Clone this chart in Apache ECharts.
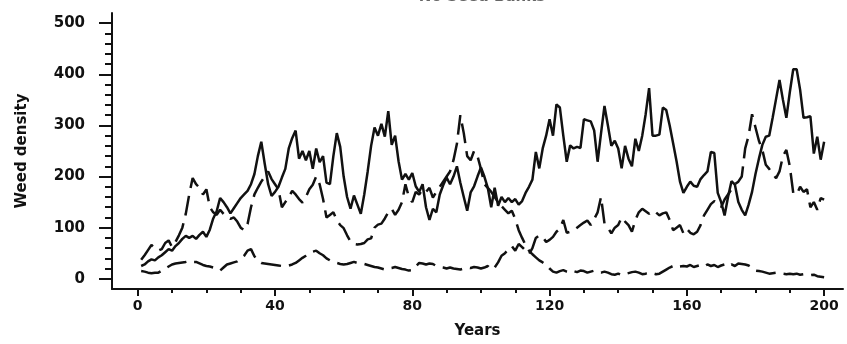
<!DOCTYPE html>
<html>
<head>
<meta charset="utf-8">
<script src="https://cdn.jsdelivr.net/npm/echarts@6/dist/echarts.min.js"></script>
<style>html,body{margin:0;padding:0;background:#fff;}#c{width:847px;height:344px;}</style>
</head>
<body>
<div id="c"></div>
<script>
// Weed density over 200 years (years 1..200)
const solidSeries = [
25,28,34,38,36,42,46,52,58,55,64,70,78,84,80,84,78,86,92,82,
96,118,132,158,150,140,128,138,148,158,165,172,185,205,240,268,225,185,162,170,
180,198,215,255,275,290,235,250,232,250,215,255,228,240,188,185,240,285,258,200,
160,137,163,145,127,165,210,260,296,280,303,278,328,262,280,230,194,205,194,207,
181,170,185,140,115,137,130,165,183,198,185,200,220,188,160,133,169,181,200,218,
200,178,140,178,143,160,150,158,150,156,145,152,168,180,194,248,216,255,280,312,
280,341,335,280,229,261,255,258,256,312,310,308,290,229,285,338,300,260,270,255,
216,260,235,220,274,250,280,322,373,280,280,282,335,330,300,265,230,190,168,180,
190,182,180,195,203,210,248,246,168,150,124,160,191,184,150,135,124,145,170,205,
235,262,278,280,315,352,389,350,315,365,410,410,370,315,316,318,245,278,233,268
];
const dashedA = [
37,46,56,66,60,55,58,70,75,62,72,85,100,127,165,197,185,178,165,175,
140,130,125,135,127,120,117,120,112,100,95,107,140,165,178,190,200,210,195,185,
175,140,150,160,172,165,156,149,160,175,184,200,185,156,120,125,130,115,105,99,
85,73,68,67,68,70,77,79,100,106,108,118,130,137,125,135,150,185,160,150,
170,165,175,170,178,159,170,180,190,200,210,232,264,320,285,240,232,250,240,215,
185,178,170,160,150,142,135,128,133,117,95,80,66,55,48,42,36,32,27,20,
14,12,15,17,14,12,15,13,16,15,12,14,16,13,12,14,12,9,8,10,
7,9,11,13,14,12,9,10,12,11,9,10,14,18,22,25,22,24,25,24,
27,23,25,27,24,28,25,27,23,26,28,24,28,25,30,29,28,26,22,16,
15,14,12,10,11,12,11,10,9,10,9,10,8,9,8,7,8,5,4,3
];
const dashedB = [
15,14,12,11,12,12,16,20,24,28,30,31,32,33,35,33,33,30,27,25,
24,22,18,16,22,28,30,32,34,38,45,55,58,44,36,31,30,29,28,27,
26,25,25,26,28,31,36,41,45,50,53,55,50,46,40,36,33,31,29,28,
29,31,33,31,30,29,27,25,23,22,20,18,20,21,23,21,19,18,16,17,
24,31,30,28,30,29,25,23,22,20,22,20,19,18,20,22,21,23,22,20,
22,25,18,22,32,45,50,58,64,55,68,62,55,48,60,80,85,82,72,76,
82,92,98,115,90,92,95,100,105,110,114,105,117,130,160,108,100,89,100,105,
120,112,105,92,115,130,137,132,127,133,130,124,128,130,115,95,100,105,89,98,
90,87,92,105,124,135,146,152,148,140,155,165,175,185,190,200,255,280,322,296,
270,252,223,215,205,197,210,240,252,220,168,165,180,170,175,140,150,135,158,155
];
const xMajorTicks = [0,40,80,120,160,200];
const xMinorTicks = [10,20,30,50,60,70,90,100,110,130,140,150,170,180,190];
const yMajorTicks = [0,100,200,300,400,500];
const yMinorTicks = [20,40,60,80,120,140,160,180,220,240,260,280,320,340,360,380,420,440,460,480];

const toPairs = arr => arr.map((v, i) => [i + 1, v]);
const ink = '#111';
const font = 'DejaVu Sans';

const chart = echarts.init(document.getElementById('c'), null, {renderer: 'canvas'});
chart.setOption({
  animation: false,
  backgroundColor: '#fff',
  title: {
    text: 'No Seed Banks',
    left: 477, textAlign: 'center', top: -15,
    textStyle: {fontFamily: font, fontWeight: 'bold', fontSize: 15, color: '#666'}
  },
  grid: {left: 112, right: 4, top: 13, bottom: 49},
  xAxis: [{
    type: 'value', min: -7.5, max: 205.5,
    name: 'Years', nameLocation: 'middle', nameGap: 35,
    nameTextStyle: {fontFamily: font, fontWeight: 'bold', fontSize: 15, color: ink},
    axisLine: {show: true, onZero: false, lineStyle: {color: ink, width: 2}},
    axisTick: {show: true, customValues: xMajorTicks, length: 7, lineStyle: {color: ink, width: 2}},
    axisLabel: {customValues: xMajorTicks, margin: 10, fontFamily: font, fontWeight: 'bold', fontSize: 14, color: ink},
    splitLine: {show: false}
  }, {
    type: 'value', min: -7.5, max: 205.5, position: 'bottom',
    axisLine: {show: false, onZero: false},
    axisTick: {show: true, customValues: xMinorTicks, length: 4, lineStyle: {color: ink, width: 2}},
    axisLabel: {show: false},
    splitLine: {show: false}
  }],
  yAxis: [{
    type: 'value', min: -20, max: 520,
    name: 'Weed density', nameLocation: 'middle', nameGap: 82,
    nameTextStyle: {fontFamily: font, fontWeight: 'bold', fontSize: 15, color: ink},
    axisLine: {show: true, onZero: false, lineStyle: {color: ink, width: 2}},
    axisTick: {show: true, customValues: yMajorTicks, length: 13, lineStyle: {color: ink, width: 2}},
    axisLabel: {customValues: yMajorTicks, margin: 27, fontFamily: font, fontWeight: 'bold', fontSize: 15, color: ink},
    splitLine: {show: false}
  }, {
    type: 'value', min: -20, max: 520, position: 'left',
    axisLine: {show: false, onZero: false},
    axisTick: {show: true, customValues: yMinorTicks, length: 7, lineStyle: {color: ink, width: 2}},
    axisLabel: {show: false},
    splitLine: {show: false}
  }],
  series: [
    {type: 'line', data: toPairs(solidSeries), showSymbol: false, symbol: 'none',
     lineStyle: {color: ink, width: 2.5, type: 'solid'}},
    {type: 'line', data: toPairs(dashedA), showSymbol: false, symbol: 'none',
     lineStyle: {color: ink, width: 2.5, type: [20, 8]}},
    {type: 'line', data: toPairs(dashedB), showSymbol: false, symbol: 'none',
     lineStyle: {color: ink, width: 2.5, type: [20, 8]}}
  ]
});
</script>
</body>
</html>
